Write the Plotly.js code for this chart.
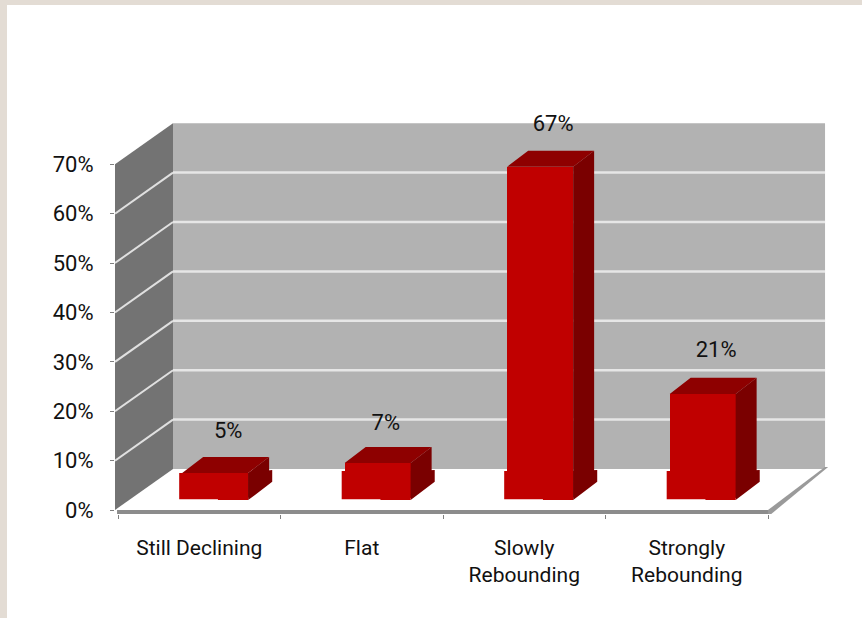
<!DOCTYPE html>
<html>
<head>
<meta charset="utf-8">
<script src="https://cdn.plot.ly/plotly-3.0.1.min.js"></script>
<style>
  html, body { margin: 0; padding: 0; width: 862px; height: 618px; overflow: hidden; background: #E3DCD4; }
  #sheet { position: absolute; left: 7px; top: 5px; right: 0; bottom: 0; background: #FFFFFF; }
  #chart { position: absolute; left: 0; top: 0; width: 862px; height: 618px; }
</style>
</head>
<body>
<div id="sheet"></div>
<div id="chart"></div>
<script>
// Survey responses, in percent
const categories = ['Still Declining', 'Flat', 'Slowly<br>Rebounding', 'Strongly<br>Rebounding'];
const shares = [5, 7, 67, 21];
const gridValues = [10, 20, 30, 40, 50, 60];
const axisValues = [0, 10, 20, 30, 40, 50, 60, 70];
const axisLabels = ['0%', '10%', '20%', '30%', '40%', '50%', '60%', '70%'];

// Oblique projection of the box: depth of the room and of each column, in axis units
const roomDy = 8.3;
const columnDx = 0.129, columnDy = 3.25;
const columnWidth = 0.406, columnShift = 0.098, columnBase = 2.5;
const footPad = 0.0185, footDx = 0.148, footTop = 7.9;
const wallLeft = -0.0185, wallBack = 0.3385, wallRight = 4.351;
const roomTop = 70;

// Nudges for the value labels, relative to the column centre and top
const labelDx = [0.08, 0.05, 0.08, 0.083];
const labelDy = [8.1, 7.8, 8.3, 8.5];

const FONT = 'Roboto, "Liberation Sans", Arial, sans-serif';
const FONT_SIZE = 22;
const INK = '#111111';
const FRONT = '#C00000', TOP = '#8E0000', SIDE = '#7A0000';

// Polygons for the visible top and side of each column, plus its flared foot
function polygons(build) {
  const x = [], y = [];
  shares.forEach((v, i) => {
    build(v, i).forEach(p => { x.push(p[0]); y.push(p[1]); });
    x.push(null); y.push(null);
  });
  return { x, y };
}
const left = i => i + 0.5 + columnShift - columnWidth / 2;
const right = i => left(i) + columnWidth;
const peak = v => columnBase + v;

const topFaces = polygons((v, i) => [
  [left(i), peak(v)], [right(i), peak(v)],
  [right(i) + columnDx, peak(v) + columnDy], [left(i) + columnDx, peak(v) + columnDy]
]);
const sideFaces = polygons((v, i) => [
  [right(i), columnBase], [right(i), peak(v)],
  [right(i) + columnDx, peak(v) + columnDy], [right(i) + columnDx, columnBase + columnDy]
]);
const footSides = polygons((v, i) => [
  [right(i), 2.0], [right(i), Math.min(footTop, peak(v))],
  [right(i) + footDx, 8.1], [right(i) + footDx, 5.7]
]);
const footFronts = polygons((v, i) => {
  const h = Math.min(footTop, peak(v));
  return [
    [left(i) - footPad, 2.2], [left(i) - footPad, h], [right(i), h],
    [right(i), 2.0], [left(i) + 0.22, 2.0], [left(i) + 0.22, 2.2]
  ];
});

function face(poly, color) {
  return {
    type: 'scatter', mode: 'lines', x: poly.x, y: poly.y,
    fill: 'toself', fillcolor: color, line: { width: 0, color: color },
    hoverinfo: 'skip', showlegend: false
  };
}

const traces = [
  {
    type: 'bar',
    x: shares.map((v, i) => i + 0.5 + columnShift),
    y: shares,
    base: shares.map(() => columnBase),
    width: columnWidth,
    marker: { color: FRONT, line: { width: 0 } },
    hoverinfo: 'skip', showlegend: false
  },
  face(footSides, SIDE),
  face(footFronts, FRONT),
  face(sideFaces, SIDE),
  face(topFaces, TOP),
  {
    type: 'scatter', mode: 'text',
    x: shares.map((v, i) => i + 0.5 + columnShift + labelDx[i]),
    y: shares.map((v, i) => peak(v) + labelDy[i]),
    text: shares.map(v => v + '%'),
    textposition: 'middle center',
    textfont: { family: FONT, size: FONT_SIZE, color: INK },
    hoverinfo: 'skip', showlegend: false
  }
];

// Room: side wall, back wall, gridlines, front edge and right edge of the floor
const shapes = [
  { type: 'path', layer: 'below', xref: 'x', yref: 'y', line: { width: 0 }, fillcolor: '#737373',
    path: `M${wallLeft},0 L${wallBack},${roomDy} L${wallBack},${roomTop + roomDy} L${wallLeft},${roomTop} Z` },
  { type: 'rect', layer: 'below', xref: 'x', yref: 'y', line: { width: 0 }, fillcolor: '#B2B2B2',
    x0: wallBack, x1: wallRight, y0: roomDy, y1: roomTop + roomDy }
];
gridValues.forEach(v => {
  shapes.push({ type: 'line', layer: 'below', xref: 'x', yref: 'y', line: { color: '#E6E6E6', width: 2.5 },
    x0: wallBack, x1: wallRight, y0: v + roomDy, y1: v + roomDy });
  shapes.push({ type: 'line', layer: 'below', xref: 'x', yref: 'y', line: { color: '#E0E0E0', width: 2 },
    x0: wallLeft, x1: wallBack, y0: v, y1: v + roomDy });
});
shapes.push({ type: 'rect', layer: 'below', xref: 'x', yref: 'y', line: { width: 0 }, fillcolor: '#8C8C8C',
  x0: -0.006, x1: 4, y0: -0.81, y1: 0 });
shapes.push({ type: 'path', layer: 'below', xref: 'x', yref: 'y', line: { width: 0 }, fillcolor: '#9A9A9A',
  path: `M4,0 L4,-0.8 L4.02,-0.8 L4.37,8.7 L4.35,8.7 Z` });

const layout = {
  width: 862, height: 618,
  margin: { l: 115, r: 32, t: 100, b: 104, pad: 0 },
  paper_bgcolor: 'rgba(0,0,0,0)',
  plot_bgcolor: 'rgba(0,0,0,0)',
  font: { family: FONT, size: FONT_SIZE, color: INK },
  showlegend: false,
  xaxis: {
    range: [wallLeft, 4.3815],
    tickmode: 'array',
    tickvals: categories.map((c, i) => i + 0.5),
    ticktext: categories,
    ticks: '',
    ticklabelstandoff: 19,
    tickfont: { family: FONT, size: 21, color: INK },
    showgrid: false, zeroline: false, showline: false,
    minor: { tickmode: 'array', tickvals: [0, 1, 2, 3, 4], ticks: 'outside', ticklen: 4, tickwidth: 1, tickcolor: '#808080', showgrid: false }
  },
  yaxis: {
    range: [-0.81, 83],
    tickmode: 'array',
    tickvals: axisValues,
    ticktext: axisLabels,
    ticks: 'outside', ticklen: 4, tickwidth: 1, tickcolor: '#808080',
    ticklabelstandoff: 12,
    tickfont: { family: FONT, size: FONT_SIZE, color: INK },
    showgrid: false, zeroline: false, showline: false
  },
  shapes: shapes,
  bargap: 0
};

Plotly.newPlot('chart', traces, layout, { displayModeBar: false, staticPlot: true });
</script>
</body>
</html>
